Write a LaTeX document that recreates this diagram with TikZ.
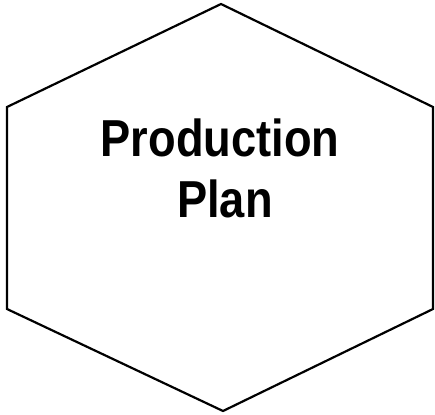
\documentclass[tikz,border=0pt]{standalone}
\usepackage{fontspec}
\setmainfont{Liberation Sans}
\usepackage{tikz}
\usetikzlibrary{positioning}

\tikzset{
  hexline/.style={line width=2.2pt, line join=miter},
  planlabel/.style={font=\fontsize{52}{62}\selectfont\bfseries, inner sep=0pt}
}

\begin{document}
\begin{tikzpicture}[x=1pt, y=-1pt]
  % Page frame
  \useasboundingbox (0,0) rectangle (435,414);
  % Hexagon corners
  \coordinate (T)  at (221,4);
  \coordinate (UL) at (7,107);
  \coordinate (LL) at (7,309);
  \coordinate (B)  at (223,411);
  \coordinate (LR) at (433,309);
  \coordinate (UR) at (433,107);
  \draw[hexline] (T) -- (UL) -- (LL) -- (B) -- (LR) -- (UR) -- cycle;
  % Label
  \node[planlabel, anchor=base] (prod) at (220,156) {\scalebox{0.87}[1]{Production}};
  \node[planlabel, anchor=base] (plan) at (225,217) {\scalebox{0.87}[1]{Plan}};
\end{tikzpicture}
\end{document}
